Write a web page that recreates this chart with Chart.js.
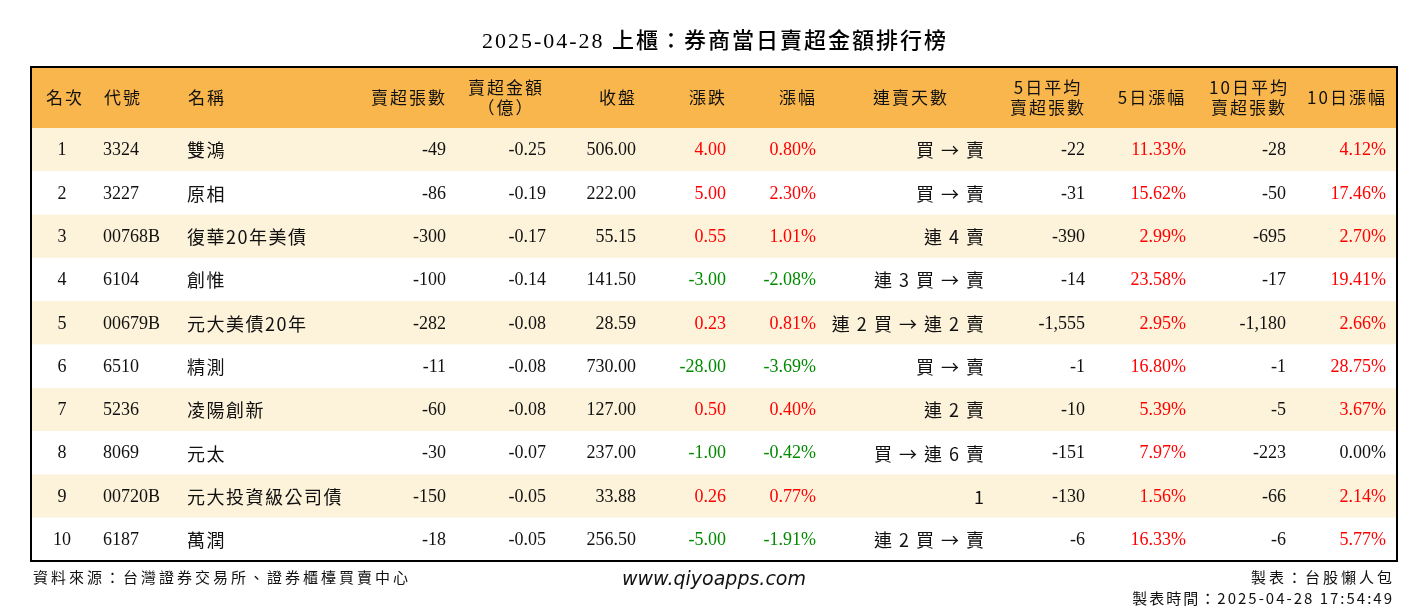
<!DOCTYPE html>
<html>
<head>
<meta charset="utf-8">
<script src="https://cdn.jsdelivr.net/npm/chart.js@4"></script>
<style>
  body { margin: 0; background: #fff; }
  #wrap { width: 1428px; height: 612px; }
</style>
</head>
<body>
<div id="wrap"><canvas id="chart" width="1428" height="612"></canvas></div>
<script>
const title = "2025-04-28 上櫃：券商當日賣超金額排行榜";
const headers = ["名次", "代號", "名稱", "賣超張數", "賣超金額\n（億）", "收盤", "漲跌", "漲幅", "連賣天數", "5日平均\n賣超張數", "5日漲幅", "10日平均\n賣超張數", "10日漲幅"];

const ranks = ["1", "2", "3", "4", "5", "6", "7", "8", "9", "10"];
const codes = ["3324", "3227", "00768B", "6104", "00679B", "6510", "5236", "8069", "00720B", "6187"];
const names = ["雙鴻", "原相", "復華20年美債", "創惟", "元大美債20年", "精測", "凌陽創新", "元太", "元大投資級公司債", "萬潤"];
const netSell = [-49, -86, -300, -100, -282, -11, -60, -30, -150, -18];
const netAmount = [-0.25, -0.19, -0.17, -0.14, -0.08, -0.08, -0.08, -0.07, -0.05, -0.05];
const closePrice = [506.00, 222.00, 55.15, 141.50, 28.59, 730.00, 127.00, 237.00, 33.88, 256.50];
const change = [4.00, 5.00, 0.55, -3.00, 0.23, -28.00, 0.50, -1.00, 0.26, -5.00];
const changePct = [0.80, 2.30, 1.01, -2.08, 0.81, -3.69, 0.40, -0.42, 0.77, -1.91];
const streak = ["買 → 賣", "買 → 賣", "連 4 賣", "連 3 買 → 賣", "連 2 買 → 連 2 賣", "買 → 賣", "連 2 賣", "買 → 連 6 賣", "1", "連 2 買 → 賣"];
const avg5 = [-22, -31, -390, -14, -1555, -1, -10, -151, -130, -6];
const pct5 = [11.33, 15.62, 2.99, 23.58, 2.95, 16.80, 5.39, 7.97, 1.56, 16.33];
const avg10 = [-28, -50, -695, -17, -1180, -1, -5, -223, -66, -6];
const pct10 = [4.12, 17.46, 2.70, 19.41, 2.66, 28.75, 3.67, 0.00, 2.14, 5.77];

const sourceText = "資料來源：台灣證券交易所、證券櫃檯買賣中心";
const siteText = "www.qiyoapps.com";
const makerText = "製表：台股懶人包";
const timeText = "製表時間：2025-04-28 17:54:49";

// layout (page pixels, mapped through the linear scales)
const tableLeft = 31, tableRight = 1397, tableTop = 67, headerBottom = 128, rowH = 43.3;
const colPos = [[62, "center"], [103, "left"], [187, "left"], [446, "right"], [546, "right"], [636, "right"], [726, "right"], [816, "right"], [984, "right"], [1085, "right"], [1186, "right"], [1286, "right"], [1386, "right"]];
const headPos = [[64, "center"], [122, "center"], [206, "center"], [408, "center"], [505, "center"], [617, "center"], [707, "center"], [797, "center"], [910, "center"], [1047, "center"], [1151, "center"], [1248, "center"], [1346, "center"]];

const RED = "#ff0000", GREEN = "#008a00", BLACK = "#111";
const NUM_FONT = '"Liberation Serif", "Noto Sans CJK TC", serif';
const CJK_FONT = '"Noto Sans CJK TC", "Liberation Serif", serif';

function fmtInt(v) { return v.toLocaleString("en-US"); }
function signColor(v) { return v > 0 ? RED : (v < 0 ? GREEN : BLACK); }

// right/center aligned text with letterSpacing leaves a trailing gap, so shift it
function spacedText(ctx, txt, x, y, spacing) {
    ctx.letterSpacing = spacing + "px";
    let dx = 0;
    if (ctx.textAlign === "right") dx = spacing;
    else if (ctx.textAlign === "center") dx = spacing / 2;
    ctx.fillText(txt, x + dx, y);
    ctx.letterSpacing = "0px";
}

const tablePlugin = {
    id: "tablePlugin",
    beforeDatasetsDraw(chart) {
        const ctx = chart.ctx;
        const X = v => chart.scales.x.getPixelForValue(v);
        const Y = v => chart.scales.y.getPixelForValue(v);
        ctx.save();

        // title
        ctx.fillStyle = "#000";
        ctx.textAlign = "center";
        ctx.textBaseline = "middle";
        ctx.font = '500 22px ' + NUM_FONT;
        spacedText(ctx, title, X(714), Y(42), 2);

        // header background
        ctx.fillStyle = "#f8b64c";
        ctx.fillRect(X(tableLeft), Y(tableTop), X(tableRight) - X(tableLeft), Y(headerBottom) - Y(tableTop));

        // row stripes
        ranks.forEach((r, i) => {
            const top = headerBottom + i * rowH;
            ctx.fillStyle = i % 2 === 0 ? "#fdf2da" : "#ffffff";
            ctx.fillRect(X(tableLeft), Y(top), X(tableRight) - X(tableLeft), Y(top + rowH) - Y(top));
        });

        // header text
        ctx.fillStyle = BLACK;
        ctx.font = '17px ' + CJK_FONT;
        headers.forEach((h, c) => {
            const lines = h.split("\n");
            ctx.textAlign = headPos[c][1];
            const mid = (tableTop + headerBottom) / 2;
            lines.forEach((ln, k) => {
                const y = mid + (k - (lines.length - 1) / 2) * 20;
                spacedText(ctx, ln, X(headPos[c][0]), Y(y), 2);
            });
        });

        // body
        ranks.forEach((r, i) => {
            const y = Y(headerBottom + i * rowH + rowH / 2 + 1);
            const cells = [
                [r, BLACK, NUM_FONT],
                [codes[i], BLACK, NUM_FONT],
                [names[i], BLACK, CJK_FONT],
                [fmtInt(netSell[i]), BLACK, NUM_FONT],
                [netAmount[i].toFixed(2), BLACK, NUM_FONT],
                [closePrice[i].toFixed(2), BLACK, NUM_FONT],
                [change[i].toFixed(2), signColor(change[i]), NUM_FONT],
                [changePct[i].toFixed(2) + "%", signColor(changePct[i]), NUM_FONT],
                [streak[i], BLACK, CJK_FONT],
                [fmtInt(avg5[i]), BLACK, NUM_FONT],
                [pct5[i].toFixed(2) + "%", signColor(pct5[i]), NUM_FONT],
                [fmtInt(avg10[i]), BLACK, NUM_FONT],
                [pct10[i].toFixed(2) + "%", signColor(pct10[i]), NUM_FONT]
            ];
            cells.forEach((cell, c) => {
                ctx.fillStyle = cell[1];
                ctx.font = '18px ' + cell[2];
                ctx.textAlign = colPos[c][1];
                if (cell[2] === CJK_FONT) spacedText(ctx, cell[0], X(colPos[c][0]), y, 1.5);
                else ctx.fillText(cell[0], X(colPos[c][0]), y);
            });
        });

        // border
        ctx.strokeStyle = "#000";
        ctx.lineWidth = 2;
        const bottom = headerBottom + ranks.length * rowH;
        ctx.strokeRect(X(tableLeft), Y(tableTop), X(tableRight) - X(tableLeft), Y(bottom) - Y(tableTop));

        // footer
        ctx.fillStyle = BLACK;
        ctx.font = '15px ' + CJK_FONT;
        ctx.textAlign = "left";
        spacedText(ctx, sourceText, X(33), Y(577), 3);
        ctx.textAlign = "right";
        spacedText(ctx, makerText, X(1392), Y(577), 3);
        spacedText(ctx, timeText, X(1392), Y(598), 2);
        ctx.textAlign = "center";
        ctx.font = 'italic 19px "DejaVu Sans", sans-serif';
        ctx.fillText(siteText, X(714), Y(580));

        ctx.restore();
    }
};

new Chart(document.getElementById("chart"), {
    type: "scatter",
    data: { datasets: [{ data: [] }] },
    options: {
        responsive: false,
        animation: false,
        layout: { padding: 0 },
        plugins: { legend: { display: false }, tooltip: { enabled: false } },
        scales: {
            x: { type: "linear", min: 0, max: 1428, display: false },
            y: { type: "linear", min: 0, max: 612, reverse: true, display: false }
        }
    },
    plugins: [tablePlugin]
});
</script>
</body>
</html>
